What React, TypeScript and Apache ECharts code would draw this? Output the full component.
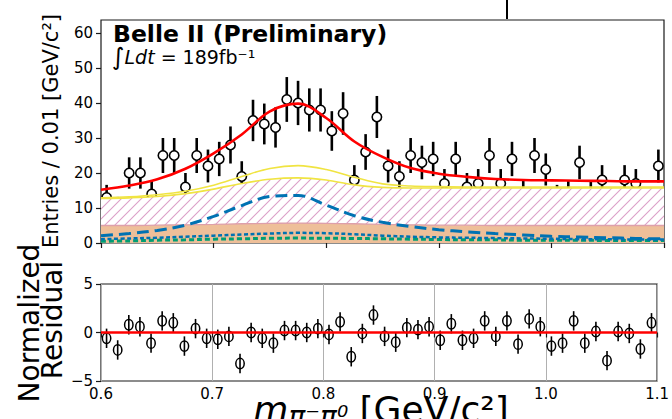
import React, { useEffect, useRef } from 'react';
import * as echarts from 'echarts';

// Binning of the m(pi- pi0) histogram
const BIN_LOW = 0.6;
const BIN_WIDTH = 0.01;

// Event counts per 0.01 GeV/c^2 bin (0.60 .. 1.10)
const COUNTS = [
  13, 10, 20, 20, 14, 25, 25, 16, 25, 22,
  24, 28, 19, 35, 34, 33, 41, 40, 38, 38,
  32, 37, 18, 26, 36, 22, 19, 25, 23, 24,
  17, 24, 16, 17, 25, 17, 24, 14, 25, 21,
  13, 14, 23, 14, 18, 9, 18, 17, 12, 22,
];

// Normalized residuals (data - fit) / sigma per bin
const RESIDUALS = [
  -0.6, -1.8, 0.8, 0.6, -1.1, 1.2, 1.0, -1.4, 0.4, -0.6,
  -0.7, -0.4, -3.2, 0.0, -0.6, -1.1, 0.2, 0.2, 0.0, 0.4,
  -0.2, 1.1, -2.5, -0.1, 1.8, -0.4, -1.0, 0.5, 0.3, 0.6,
  -0.8, 0.9, -0.8, -0.6, 1.2, -0.4, 1.2, -1.2, 1.4, 0.6,
  -1.4, -1.1, 1.2, -1.1, 0.1, -2.9, 0.1, -0.1, -1.7, 1.0,
];

// Fit model curves sampled along the mass axis
const CURVE_MASS = [
  0.6, 0.625, 0.65, 0.675, 0.7, 0.725, 0.75, 0.775, 0.8, 0.825, 0.85,
  0.875, 0.9, 0.925, 0.95, 0.975, 1.0, 1.025, 1.05, 1.075, 1.1,
];
const FIT_TOTAL = [
  15.2, 16.4, 18.2, 21.2, 25.6, 31.0, 37.6, 39.8, 35.7, 29.0, 24.6,
  21.4, 19.8, 18.9, 18.3, 18.0, 17.9, 17.8, 17.7, 17.6, 17.6,
];
const STACK_UPPER = [
  12.9, 13.2, 13.8, 14.8, 16.5, 19.0, 21.3, 22.1, 21.0, 18.8, 16.9,
  16.3, 16.1, 16.0, 16.0, 16.0, 16.0, 16.0, 16.0, 16.0, 16.0,
];
const STACK_HATCHED = [
  12.7, 12.9, 13.3, 14.1, 15.4, 17.0, 18.2, 18.6, 18.0, 16.6, 15.9,
  15.7, 15.7, 15.7, 15.7, 15.7, 15.7, 15.7, 15.7, 15.7, 15.7,
];
const STACK_FLAT = [
  5.0, 5.0, 5.1, 5.2, 5.3, 5.5, 5.6, 5.7, 5.6, 5.5, 5.3,
  5.2, 5.1, 5.1, 5.0, 5.0, 5.0, 5.0, 5.0, 5.0, 5.0,
];
const COMP_DASHED = [
  2.1, 2.7, 3.6, 5.1, 7.6, 10.7, 13.3, 13.6, 10.8, 7.8, 5.9,
  4.7, 3.8, 3.2, 2.7, 2.3, 1.9, 1.7, 1.5, 1.3, 1.2,
];
const COMP_DOTTED = [
  1.1, 1.3, 1.5, 1.8, 2.1, 2.4, 2.7, 2.9, 2.8, 2.5, 2.1,
  1.8, 1.6, 1.5, 1.4, 1.3, 1.2, 1.1, 1.1, 1.0, 1.0,
];
const COMP_GREEN = [
  0.5, 0.6, 0.8, 0.9, 1.1, 1.2, 1.35, 1.4, 1.35, 1.3, 1.2,
  1.1, 1.0, 0.9, 0.9, 0.8, 0.8, 0.8, 0.7, 0.7, 0.7,
];

const Y_TICKS_TOP = [0, 10, 20, 30, 40, 50, 60];
const FONT = '"DejaVu Sans", sans-serif';

function pairs(xs: number[], ys: number[]) {
  return xs.map((x, i) => [x, ys[i]]);
}

// Diagonal "/" hatch tile for the hatched background component
function hatchImage(): string {
  const s = 10;
  const c = document.createElement('canvas');
  c.width = s;
  c.height = s;
  const ctx = c.getContext('2d');
  if (ctx) {
    ctx.fillStyle = '#ffffff';
    ctx.fillRect(0, 0, s, s);
    ctx.strokeStyle = 'rgb(220,160,200)';
    ctx.lineWidth = 1.1;
    ctx.beginPath();
    ctx.moveTo(0, s);
    ctx.lineTo(s, 0);
    ctx.moveTo(-2, 2);
    ctx.lineTo(2, -2);
    ctx.moveTo(s - 2, s + 2);
    ctx.lineTo(s + 2, s - 2);
    ctx.stroke();
  }
  return c.toDataURL();
}

export default function App() {
  const ref = useRef<HTMLDivElement>(null);

  useEffect(() => {
    if (!ref.current) return;
    const chart = echarts.init(ref.current, undefined, { renderer: 'svg' });

    const binCenters = COUNTS.map((_, i) => +(BIN_LOW + (i + 0.5) * BIN_WIDTH).toFixed(3));
    const lineBase = { type: 'line', xAxisIndex: 0, yAxisIndex: 0, showSymbol: false, symbol: 'none', smooth: 0.35, silent: true };

    const option: any = {
      animation: false,
      backgroundColor: '#ffffff',
      textStyle: { fontFamily: FONT },
      grid: [
        { left: 101, top: 20, width: 563, height: 223, show: true, borderColor: '#1a1a1a', borderWidth: 1.2, backgroundColor: 'transparent' },
        { left: 101, top: 284, width: 563, height: 97, show: true, borderColor: '#1a1a1a', borderWidth: 1.2, backgroundColor: 'transparent' },
      ],
      xAxis: [
        {
          gridIndex: 0, type: 'value', min: 0.6, max: 1.1, interval: 0.1,
          axisLine: { show: false },
          axisTick: { show: true, length: 5, lineStyle: { color: '#1a1a1a', width: 1.2 } },
          axisLabel: { show: false },
          splitLine: { show: false },
        },
        {
          gridIndex: 1, type: 'value', min: 0.6, max: 1.1, interval: 0.1,
          axisLine: { show: false },
          axisTick: { show: true, length: 5, lineStyle: { color: '#1a1a1a', width: 1.2 } },
          axisLabel: { show: true, fontSize: 15, color: '#000', margin: 5, fontFamily: FONT, formatter: (v: number) => v.toFixed(1) },
          splitLine: { show: true, lineStyle: { color: '#b0b0b0', width: 1 } },
        },
      ],
      yAxis: [
        {
          gridIndex: 0, type: 'value', min: 0, max: 63.7,
          axisLine: { show: false },
          axisTick: { show: true, length: 5, customValues: Y_TICKS_TOP, lineStyle: { color: '#1a1a1a', width: 1.2 } },
          axisLabel: { show: true, customValues: Y_TICKS_TOP, fontSize: 15, color: '#000', margin: 8, fontFamily: FONT },
          splitLine: { show: false },
        },
        {
          gridIndex: 1, type: 'value', min: -5, max: 5, interval: 5,
          axisLine: { show: false },
          axisTick: { show: true, length: 5, lineStyle: { color: '#1a1a1a', width: 1.2 } },
          axisLabel: {
            show: true, fontSize: 15, color: '#000', margin: 8, fontFamily: FONT,
            formatter: (v: number) => (v < 0 ? '\u2212' + Math.abs(v) : String(v)),
          },
          splitLine: { show: false },
        },
      ],
      series: [
        {
          ...lineBase, name: 'hatched',
          data: pairs(CURVE_MASS, STACK_HATCHED),
          lineStyle: { color: '#F0E442', width: 1.6 },
          areaStyle: { color: { image: hatchImage(), repeat: 'repeat', imageWidth: 10, imageHeight: 10 }, opacity: 1 },
        },
        {
          ...lineBase, name: 'flat',
          data: pairs(CURVE_MASS, STACK_FLAT),
          lineStyle: { color: 'rgb(222,160,170)', width: 1.3 },
          areaStyle: { color: 'rgb(238,191,153)', opacity: 1 },
        },
        {
          ...lineBase, name: 'upper',
          data: pairs(CURVE_MASS, STACK_UPPER),
          lineStyle: { color: '#F0E442', width: 1.6 },
        },
        {
          ...lineBase, name: 'green',
          data: pairs(CURVE_MASS, COMP_GREEN),
          lineStyle: { color: '#009E73', width: 3, type: [5, 3] },
        },
        {
          ...lineBase, name: 'dotted',
          data: pairs(CURVE_MASS, COMP_DOTTED),
          lineStyle: { color: '#0072B2', width: 2.5, type: [4, 2.5] },
        },
        {
          ...lineBase, name: 'dashed',
          data: pairs(CURVE_MASS, COMP_DASHED),
          lineStyle: { color: '#0072B2', width: 3, type: [12, 6] },
        },
        {
          ...lineBase, name: 'total',
          data: pairs(CURVE_MASS, FIT_TOTAL),
          lineStyle: { color: '#ff0000', width: 2.6 },
        },
        {
          type: 'custom', name: 'data', xAxisIndex: 0, yAxisIndex: 0, silent: true,
          data: binCenters.map((x, i) => [x, COUNTS[i]]),
          renderItem: (_p: any, api: any) => {
            const x = api.value(0);
            const y = api.value(1);
            const e = Math.sqrt(y);
            const c = api.coord([x, y]);
            const hi = api.coord([x, y + e]);
            const lo = api.coord([x, y - e]);
            return {
              type: 'group',
              children: [
                { type: 'line', shape: { x1: c[0], y1: hi[1], x2: c[0], y2: lo[1] }, style: { stroke: '#000', lineWidth: 2.6 } },
                { type: 'circle', shape: { cx: c[0], cy: c[1], r: 4.7 }, style: { fill: '#fff', stroke: '#000', lineWidth: 1.6 } },
              ],
            };
          },
        },
        {
          type: 'line', name: 'zero', xAxisIndex: 1, yAxisIndex: 1, showSymbol: false, symbol: 'none', silent: true,
          data: [[0.6, 0], [1.1, 0]],
          lineStyle: { color: '#ff0000', width: 2.6 },
        },
        {
          type: 'custom', name: 'residual', xAxisIndex: 1, yAxisIndex: 1, silent: true,
          data: binCenters.map((x, i) => [x, RESIDUALS[i]]),
          renderItem: (_p: any, api: any) => {
            const x = api.value(0);
            const y = api.value(1);
            const c = api.coord([x, y]);
            const hi = api.coord([x, y + 1]);
            const lo = api.coord([x, y - 1]);
            return {
              type: 'group',
              children: [
                { type: 'line', shape: { x1: c[0], y1: hi[1], x2: c[0], y2: lo[1] }, style: { stroke: '#000', lineWidth: 1.6 } },
                { type: 'ellipse', shape: { cx: c[0], cy: c[1], rx: 4.2, ry: 5.2 }, style: { fill: 'none', stroke: '#000', lineWidth: 1.5 } },
              ],
            };
          },
        },
      ],
      graphic: [
        { type: 'line', shape: { x1: 507, y1: 0, x2: 507, y2: 19 }, style: { stroke: '#000', lineWidth: 2 } },
        {
          type: 'text', x: 113, y: 34,
          style: { text: 'Belle II (Preliminary)', fill: '#000', font: `bold 23.5px ${FONT}`, textAlign: 'left', textVerticalAlign: 'middle', verticalAlign: 'middle' },
        },
        {
          type: 'text', x: 112, y: 57,
          style: {
            text: '{int|\u222B}{it|Ldt}{rm| = 189fb\u207B\u00B9}',
            fill: '#000', textAlign: 'left', textVerticalAlign: 'middle', verticalAlign: 'middle',
            rich: {
              int: { fontSize: 24, fontFamily: FONT, fill: '#000' },
              it: { fontSize: 19, fontStyle: 'italic', fontFamily: FONT, fill: '#000' },
              rm: { fontSize: 19, fontFamily: FONT, fill: '#000' },
            },
          },
        },
        {
          type: 'text', x: 51, y: 131, rotation: Math.PI / 2,
          style: { text: 'Entries / 0.01 [GeV/c\u00B2]', fill: '#000', font: `21px ${FONT}`, textAlign: 'center', textVerticalAlign: 'middle', verticalAlign: 'middle' },
        },
        {
          type: 'text', x: 29, y: 323, rotation: Math.PI / 2,
          style: { text: 'Normalized', fill: '#000', font: `28px ${FONT}`, textAlign: 'center', textVerticalAlign: 'middle', verticalAlign: 'middle' },
        },
        {
          type: 'text', x: 52, y: 320, rotation: Math.PI / 2,
          style: { text: 'Residual', fill: '#000', font: `28px ${FONT}`, textAlign: 'center', textVerticalAlign: 'middle', verticalAlign: 'middle' },
        },
        {
          type: 'text', x: 381, y: 409,
          style: {
            text: '{m|m}{sub|\u03C0\u207B\u03C0\u2070}{rm| [GeV/c\u00B2]}',
            fill: '#000', textAlign: 'center', textVerticalAlign: 'middle', verticalAlign: 'middle',
            rich: {
              m: { fontSize: 36, fontStyle: 'italic', fontFamily: FONT, fill: '#000' },
              sub: { fontSize: 28, fontStyle: 'italic', fontFamily: FONT, fill: '#000', padding: [14, 0, 0, 0] },
              rm: { fontSize: 36, fontFamily: FONT, fill: '#000' },
            },
          },
        },
      ],
    };

    chart.setOption(option);
    return () => chart.dispose();
  }, []);

  return (
    <div
      ref={ref}
      style={{ position: 'fixed', left: 0, top: 0, width: 672, height: 419, background: '#fff' }}
    />
  );
}
